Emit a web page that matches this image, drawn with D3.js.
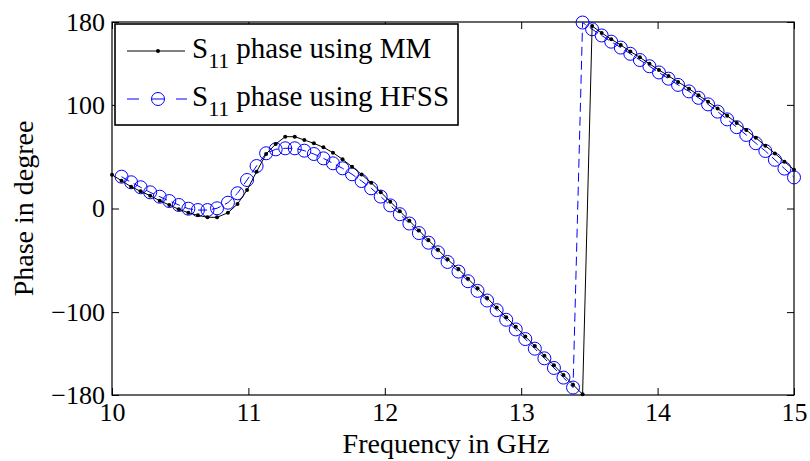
<!DOCTYPE html>
<html>
<head>
<meta charset="utf-8">
<script src="https://cdn.jsdelivr.net/npm/d3@7"></script>
<style>
  html, body { margin: 0; padding: 0; background: #fff; }
  svg text { font-family: "Liberation Serif", "DejaVu Serif", serif; fill: #000; }
</style>
</head>
<body>
<svg id="chart" width="810" height="461"></svg>
<script>
// ---- data ----
const freq = [10.00,10.07,10.14,10.21,10.28,10.35,10.42,10.49,10.56,10.63,10.70,10.77,10.85,10.92,10.99,11.06,11.13,11.20,11.27,11.34,11.41,11.48,11.55,11.62,11.69,11.76,11.83,11.90,11.97,12.04,12.11,12.18,12.25,12.32,12.39,12.46,12.54,12.61,12.68,12.75,12.82,12.89,12.96,13.03,13.10,13.17,13.24,13.31,13.38,13.45,13.52,13.59,13.66,13.73,13.80,13.87,13.94,14.01,14.08,14.15,14.23,14.30,14.37,14.44,14.51,14.58,14.65,14.72,14.79,14.86,14.93,15.00];
const phaseMM = [32.5,26.8,21.0,16.6,12.4,7.5,3.4,-0.8,-4.1,-6.6,-8.5,-8.5,-4.1,4.3,17.8,35.5,52.6,62.2,69.3,69.3,66.1,62.9,59.0,53.9,47.5,40.3,32.8,24.9,15.8,6.6,-2.6,-11.9,-21.2,-30.5,-39.8,-49.1,-58.4,-67.7,-77.0,-86.3,-95.6,-104.9,-114.2,-123.5,-132.8,-142.1,-151.4,-160.7,-170.0,-179.3,176.1,169.5,163.3,157.8,151.5,145.9,139.6,133.7,127.9,122.2,115.6,109.2,103.1,96.5,89.5,82.6,75.8,68.2,60.6,53.1,45.2,37.5];
const phaseHFSS = [null,30.7,25.3,20.5,15.6,11.4,7.2,3.4,-0.2,-1.5,-1.5,0.2,5.6,14.7,27.5,41.0,53.3,57.1,58.1,58.1,55.8,52.6,48.4,43.6,38.8,33.0,26.5,19.5,11.5,3.0,-5.5,-14.5,-23.7,-33.0,-42.3,-51.6,-60.9,-70.2,-79.5,-88.8,-98.1,-107.4,-116.7,-126.0,-135.3,-144.6,-153.9,-163.2,-172.8,179.5,173.0,167.0,161.0,155.3,149.3,143.3,137.3,131.3,125.3,119.3,113.0,106.8,100.5,93.5,86.0,78.5,71.0,63.0,55.5,47.0,38.5,30.0];
const xTicks = [10,11,12,13,14,15];
const yTicks = [-180,-100,0,100,180];
const seriesNames = ["phase using MM","phase using HFSS"];
const xLabel = "Frequency in GHz";
const yLabel = "Phase in degree";

// ---- layout ----
const W = 810, H = 461;
const m = {left:112, top:22, right:16, bottom:66};
const pw = W - m.left - m.right, ph = H - m.top - m.bottom;
const svg = d3.select("#chart");
const x = d3.scaleLinear().domain([10,15]).range([m.left, m.left+pw]);
const y = d3.scaleLinear().domain([-180,180]).range([m.top+ph, m.top]);
const FS = 26;

// axes (ticks inward on all four sides)
const tl = 7;
const gB = svg.append("g").attr("transform",`translate(0,${m.top+ph})`)
  .call(d3.axisBottom(x).tickValues(xTicks).tickSize(-tl).tickPadding(8).tickFormat(d3.format("d")));
const gT = svg.append("g").attr("transform",`translate(0,${m.top})`)
  .call(d3.axisTop(x).tickValues(xTicks).tickSize(-tl).tickFormat(""));
const gL = svg.append("g").attr("transform",`translate(${m.left},0)`)
  .call(d3.axisLeft(y).tickValues(yTicks).tickSize(-tl).tickPadding(7).tickFormat(d => d < 0 ? "\u2212" + Math.abs(d) : d));
const gR = svg.append("g").attr("transform",`translate(${m.left+pw},0)`)
  .call(d3.axisRight(y).tickValues(yTicks).tickSize(-tl).tickFormat(""));
[gB,gT,gL,gR].forEach(g => {
  g.select(".domain").remove();
  g.selectAll("line").attr("stroke","#000").attr("stroke-width",1);
  g.selectAll("text").style("font-size",FS+"px").attr("fill","#000");
});
gB.selectAll("text").attr("dy","0.71em");
svg.append("rect").attr("x",m.left).attr("y",m.top).attr("width",pw).attr("height",ph)
  .attr("fill","none").attr("stroke","#000").attr("stroke-width",1.2);

const mm = freq.map((f,i)=>({f, v:phaseMM[i]}));
const hf = freq.map((f,i)=>({f, v:phaseHFSS[i]})).filter(d => d.v !== null);

const line = d3.line().x(d=>x(d.f)).y(d=>y(d.v));
const plot = svg.append("g");

// HFSS dashed blue + circles
plot.append("path").datum(hf).attr("d",line).attr("fill","none")
  .attr("stroke","#0000ff").attr("stroke-width",1).attr("stroke-dasharray","9,5");
plot.selectAll("circle.hf").data(hf).enter().append("circle").attr("class","hf")
  .attr("cx",d=>x(d.f)).attr("cy",d=>y(d.v)).attr("r",6.5)
  .attr("fill","none").attr("stroke","#0000ff").attr("stroke-width",1);

// MM black solid + dots
plot.append("path").datum(mm).attr("d",line).attr("fill","none")
  .attr("stroke","#000").attr("stroke-width",1);
plot.selectAll("circle.mm").data(mm).enter().append("circle").attr("class","mm")
  .attr("cx",d=>x(d.f)).attr("cy",d=>y(d.v)).attr("r",2)
  .attr("fill","#000");

// axis labels
svg.append("text").attr("x", 446).attr("y", 453).attr("text-anchor","middle")
  .style("font-size","28px").text(xLabel);
svg.append("text").attr("transform",`translate(33,${m.top+ph/2}) rotate(-90)`).attr("text-anchor","middle")
  .style("font-size","28px").text(yLabel);

// legend
const lg = svg.append("g");
lg.append("rect").attr("x",115).attr("y",24).attr("width",343).attr("height",101)
  .attr("fill","#fff").attr("stroke","#000").attr("stroke-width",1.6);
const rows = [51, 99];
// MM row
lg.append("line").attr("x1",127).attr("x2",185).attr("y1",rows[0]).attr("y2",rows[0]).attr("stroke","#000").attr("stroke-width",1);
lg.append("circle").attr("cx",158).attr("cy",rows[0]).attr("r",2).attr("fill","#000");
// HFSS row
lg.append("line").attr("x1",127).attr("x2",187).attr("y1",rows[1]).attr("y2",rows[1]).attr("stroke","#0000ff").attr("stroke-width",1).attr("stroke-dasharray","12,37,11");
lg.append("circle").attr("cx",158).attr("cy",rows[1]).attr("r",6.5).attr("fill","none").attr("stroke","#0000ff").attr("stroke-width",1);
lg.append("line").attr("x1",152).attr("x2",164).attr("y1",rows[1]).attr("y2",rows[1]).attr("stroke","#0000ff").attr("stroke-width",1);
rows.forEach((ry,i) => {
  const t = lg.append("text").attr("x",192).attr("y",ry+7).style("font-size","29px");
  t.append("tspan").text("S");
  t.append("tspan").attr("dy",10).style("font-size","22px").text("11");
  t.append("tspan").attr("dy",-10).attr("dx",7).text(seriesNames[i]);
});
</script>
</body>
</html>
